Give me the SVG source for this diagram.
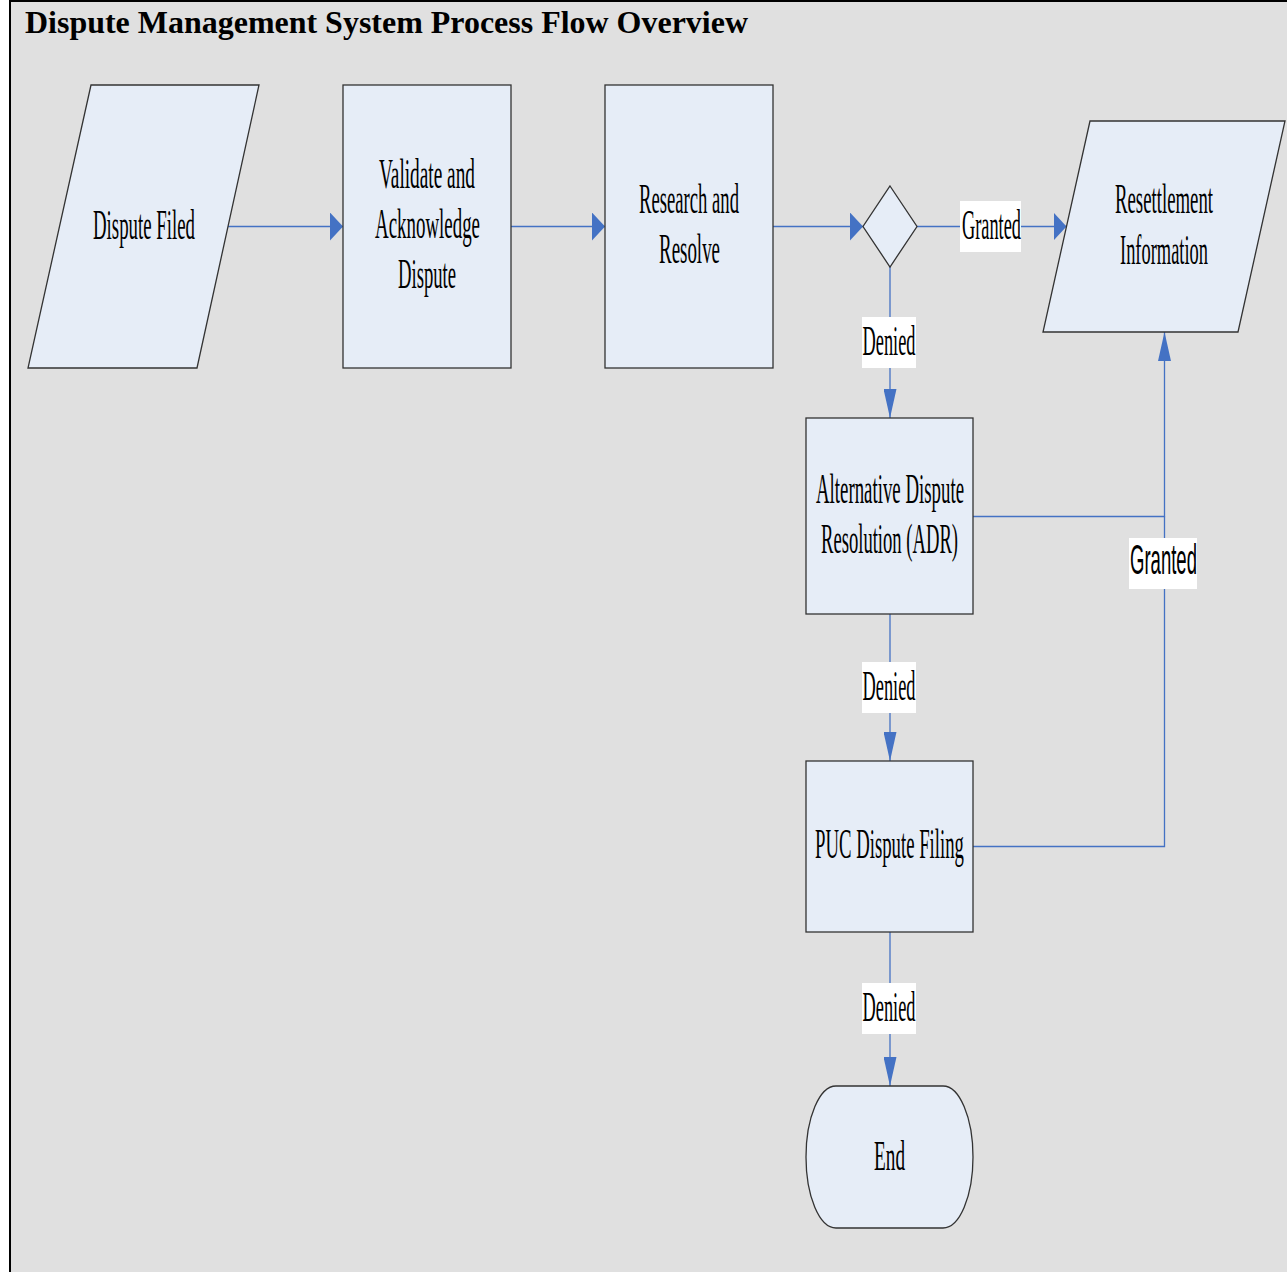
<svg xmlns="http://www.w3.org/2000/svg" width="1287" height="1272" viewBox="0 0 1287 1272">
  <style>
    .node { fill: #e6edf7; stroke: #333333; stroke-width: 1.3; }
    .conn { fill: none; stroke: #4472c4; stroke-width: 1.3; }
    .lbl { font-family: "Liberation Serif", "Times New Roman", serif; font-size: 42px; fill: #000000; }
    .sans { font-family: "Liberation Sans", Arial, sans-serif; font-size: 42px; fill: #000000; }
    .lblbox { fill: #ffffff; stroke: none; }
    .title { font-family: "Liberation Serif", "Times New Roman", serif; font-size: 31.5px; font-weight: bold; fill: #000000; }
  </style>
  <defs>
    <marker id="arrH" markerUnits="userSpaceOnUse" viewBox="0 0 13 28" refX="13" refY="14" markerWidth="13" markerHeight="28" orient="auto">
      <path d="M0,0 L13,14 L0,28 Z" fill="#4472c4"/>
    </marker>
    <marker id="arrV" markerUnits="userSpaceOnUse" viewBox="0 0 29 13" refX="29" refY="6.5" markerWidth="29" markerHeight="13" orient="auto">
      <path d="M0,0 L29,6.5 L0,13 Z" fill="#4472c4"/>
    </marker>
  </defs>
  <rect x="0" y="0" width="1287" height="1272" fill="#ffffff"/>
  <rect id="frame" x="10" y="1" width="1290" height="1290" fill="#e0e0e0" stroke="#000000" stroke-width="2"/>
  <text class="title" x="25" y="33" textLength="723" lengthAdjust="spacingAndGlyphs">Dispute Management System Process Flow Overview</text>

  <g id="connectors">
    <line class="conn" x1="228" y1="226.5" x2="343" y2="226.5" marker-end="url(#arrH)"/>
    <line class="conn" x1="511" y1="226.5" x2="605" y2="226.5" marker-end="url(#arrH)"/>
    <line class="conn" x1="773" y1="226.5" x2="863" y2="226.5" marker-end="url(#arrH)"/>
    <line class="conn" x1="917" y1="226.5" x2="1066.5" y2="226.5" marker-end="url(#arrH)"/>
    <line class="conn" x1="890" y1="267" x2="890" y2="418" marker-end="url(#arrV)"/>
    <line class="conn" x1="890" y1="614" x2="890" y2="761" marker-end="url(#arrV)"/>
    <line class="conn" x1="890" y1="932" x2="890" y2="1086" marker-end="url(#arrV)"/>
    <polyline class="conn" points="973,516.5 1164.5,516.5 1164.5,332" marker-end="url(#arrV)"/>
    <polyline class="conn" points="973,846.5 1164.5,846.5 1164.5,516.5"/>

    <g id="label-granted-1">
      <rect class="lblbox" x="960" y="201" width="61" height="51"/>
      <text class="lbl" x="962" y="239" textLength="59" lengthAdjust="spacingAndGlyphs">Granted</text>
    </g>
    <g id="label-denied-1">
      <rect class="lblbox" x="862" y="317" width="54" height="51"/>
      <text class="lbl" x="862.5" y="355" textLength="53" lengthAdjust="spacingAndGlyphs">Denied</text>
    </g>
    <g id="label-denied-2">
      <rect class="lblbox" x="862" y="662" width="54" height="51"/>
      <text class="lbl" x="862.5" y="700" textLength="53" lengthAdjust="spacingAndGlyphs">Denied</text>
    </g>
    <g id="label-denied-3">
      <rect class="lblbox" x="862" y="983" width="54" height="51"/>
      <text class="lbl" x="862.5" y="1021" textLength="53" lengthAdjust="spacingAndGlyphs">Denied</text>
    </g>
    <g id="label-granted-2">
      <rect class="lblbox" x="1129" y="538" width="68" height="51"/>
      <text class="sans" x="1130" y="574" textLength="67" lengthAdjust="spacingAndGlyphs">Granted</text>
    </g>
  </g>

  <g id="node-dispute-filed">
    <polygon class="node" points="91,85 259,85 197,368 28,368"/>
    <text class="lbl" x="93" y="239" textLength="102" lengthAdjust="spacingAndGlyphs">Dispute Filed</text>
  </g>
  <g id="node-validate">
    <rect class="node" x="343" y="85" width="168" height="283"/>
    <text class="lbl" x="379" y="188" textLength="96" lengthAdjust="spacingAndGlyphs">Validate and</text>
    <text class="lbl" x="375" y="238" textLength="105" lengthAdjust="spacingAndGlyphs">Acknowledge</text>
    <text class="lbl" x="398" y="288" textLength="58" lengthAdjust="spacingAndGlyphs">Dispute</text>
  </g>
  <g id="node-research">
    <rect class="node" x="605" y="85" width="168" height="283"/>
    <text class="lbl" x="639" y="213" textLength="100" lengthAdjust="spacingAndGlyphs">Research and</text>
    <text class="lbl" x="659" y="263" textLength="61" lengthAdjust="spacingAndGlyphs">Resolve</text>
  </g>
  <g id="node-decision">
    <polygon class="node" points="890,186 917,226.5 890,267 863,226.5"/>
  </g>
  <g id="node-resettlement">
    <polygon class="node" points="1090,121 1285,121 1238,332 1043,332"/>
    <text class="lbl" x="1115" y="213" textLength="98" lengthAdjust="spacingAndGlyphs">Resettlement</text>
    <text class="lbl" x="1120" y="264" textLength="88" lengthAdjust="spacingAndGlyphs">Information</text>
  </g>
  <g id="node-adr">
    <rect class="node" x="806" y="418" width="167" height="196"/>
    <text class="lbl" x="816" y="503" textLength="148" lengthAdjust="spacingAndGlyphs">Alternative Dispute</text>
    <text class="lbl" x="821" y="553" textLength="137" lengthAdjust="spacingAndGlyphs">Resolution (ADR)</text>
  </g>
  <g id="node-puc">
    <rect class="node" x="806" y="761" width="167" height="171"/>
    <text class="lbl" x="815" y="858" textLength="149" lengthAdjust="spacingAndGlyphs">PUC Dispute Filing</text>
  </g>
  <g id="node-end">
    <path class="node" d="M836,1086 L943,1086 A30,71 0 0 1 973,1157 A30,71 0 0 1 943,1228 L836,1228 A30,71 0 0 1 806,1157 A30,71 0 0 1 836,1086 Z"/>
    <text class="lbl" x="874" y="1170" textLength="31" lengthAdjust="spacingAndGlyphs">End</text>
  </g>
</svg>
